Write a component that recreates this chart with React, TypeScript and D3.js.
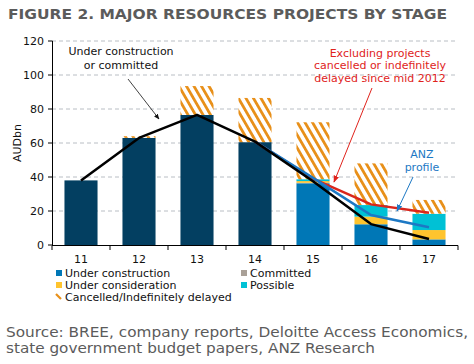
import * as d3 from "d3";

// years on the x axis
const years = ["11", "12", "13", "14", "15", "16", "17"];

// stacked bar series (AUD bn)
const completedBase = [38, 63, 76.5, 60.5, 0, 0, 0];
const underConstruction = [0, 0, 0, 0, 36.3, 12.2, 3.3];
const committed = [0, 0, 0, 0, 0.3, 0, 0];
const underConsideration = [0, 0, 0, 0, 1.0, 4.5, 5.5];
const possible = [0, 0, 0, 0, 1.1, 6.8, 9.6];
const cancelled = [0, 1, 17, 26, 33.5, 24.5, 8.1];

// lines
const ucLine = [38, 63, 76.5, 60.8, 37.5, 12.3, 3.5];
const anzYears = ["14", "15", "16", "17"];
const anzLine = [60.8, 39.5, 17.6, 10.4];
const exclLine = [60.8, 39.0, 23.9, 19.0];

const yTicks = [0, 20, 40, 60, 80, 100, 120];

const W = 474;
const H = 364;
const FONT = "DejaVu Sans, Verdana, sans-serif";

const x = d3.scaleBand<string>().domain(years).range([52, 458]).paddingInner(0.43).paddingOuter(0.215);
const y = d3.scaleLinear().domain([0, 120]).range([245, 41]);
const cx = (d: string) => (x(d) as number) + x.bandwidth() / 2;

const seriesList = [
  { key: "base", vals: completedBase, fill: "#033f61" },
  { key: "uc", vals: underConstruction, fill: "#0077b6" },
  { key: "com", vals: committed, fill: "#a9a097" },
  { key: "cons", vals: underConsideration, fill: "#ffc42e" },
  { key: "pos", vals: possible, fill: "#00c1d5" },
  { key: "can", vals: cancelled, fill: "url(#hatch)" },
];

const legendItems = [
  { label: "Under construction", fill: "#0077b6", lx: 56, ly: 273 },
  { label: "Committed", fill: "#a9a097", lx: 241, ly: 273 },
  { label: "Under consideration", fill: "#ffc42e", lx: 56, ly: 285 },
  { label: "Possible", fill: "#00c1d5", lx: 241, ly: 285 },
  { label: "Cancelled/Indefinitely delayed", fill: "hatch", lx: 56, ly: 297 },
];

export default function App() {
  //stack the bars
  const stackData = years.map((yr, i) => {
    const row: any = { year: yr };
    seriesList.forEach((s) => (row[s.key] = s.vals[i]));
    return row;
  });
  const stacked = d3.stack().keys(seriesList.map((s) => s.key))(stackData);

  const line = d3.line<number>();
  const ucPath = line(ucLine.map((v, i) => [cx(years[i]), y(v)]));
  const anzPath = line(anzLine.map((v, i) => [cx(anzYears[i]), y(v)]));
  const exclPath = line(exclLine.map((v, i) => [cx(anzYears[i]), y(v)]));

  const boundaries = d3.range(years.length + 1).map((i) => 52 + (i * (458 - 52)) / years.length);

  return (
    <svg width={W} height={H} style={{ position: "absolute", left: 0, top: 0, background: "#fff" }} fontFamily={FONT}>
      <defs>
        <pattern id="hatch" width="6.5" height="6.5" patternUnits="userSpaceOnUse" patternTransform="rotate(-30)">
          <rect width="6.5" height="6.5" fill="#fff" />
          <rect width="2.8" height="6.5" fill="#e8901a" />
        </pattern>
        <marker id="arrBlack" viewBox="0 0 10 10" refX="9" refY="5" markerWidth="7" markerHeight="7" orient="auto">
          <path d="M0,1 L10,5 L0,9 z" fill="#111" />
        </marker>
        <marker id="arrRed" viewBox="0 0 10 10" refX="9" refY="5" markerWidth="7" markerHeight="7" orient="auto">
          <path d="M0,1 L10,5 L0,9 z" fill="#e0231c" />
        </marker>
        <marker id="arrBlue" viewBox="0 0 10 10" refX="9" refY="5" markerWidth="7" markerHeight="7" orient="auto">
          <path d="M0,1 L10,5 L0,9 z" fill="#1c78c4" />
        </marker>
      </defs>

      {/* title */}
      <text x={8} y={19} fontSize={14} fontWeight="bold" fill="#5b5b5b" textLength={439} lengthAdjust="spacingAndGlyphs">
        FIGURE 2. MAJOR RESOURCES PROJECTS BY STAGE
      </text>

      {/* gridlines */}
      {yTicks.filter((t) => t > 0).map((t) => (
        <line key={t} x1={52} x2={458} y1={y(t)} y2={y(t)} stroke="#b9bec4" strokeDasharray="4,3" strokeWidth={1} />
      ))}

      {/* bars */}
      {stacked.map((layer, li) => (
        <g key={layer.key} fill={seriesList[li].fill}>
          {layer.map((d, i) =>
            d[1] - d[0] > 0 ? (
              <rect key={i} x={x(years[i])} width={x.bandwidth()} y={y(d[1])} height={y(d[0]) - y(d[1])} />
            ) : null
          )}
        </g>
      ))}

      {/* lines */}
      <path d={exclPath || ""} fill="none" stroke="#d9261c" strokeWidth={2.5} />
      <path d={anzPath || ""} fill="none" stroke="#1c78c4" strokeWidth={2.5} />
      <path d={ucPath || ""} fill="none" stroke="#000" strokeWidth={2.5} strokeLinejoin="round" />

      {/* axes */}
      <line x1={52.5} x2={52.5} y1={41} y2={245} stroke="#000" />
      {yTicks.map((t) => (
        <g key={t}>
          <line x1={48} x2={52.5} y1={y(t)} y2={y(t)} stroke="#000" />
          <text x={44} y={y(t)} dy="0.35em" textAnchor="end" fontSize={11} fill="#111">{t}</text>
        </g>
      ))}
      <line x1={52} x2={458} y1={245.5} y2={245.5} stroke="#000" />
      {boundaries.map((b) => (
        <line key={b} x1={b} x2={b} y1={245.5} y2={250} stroke="#000" />
      ))}
      {years.map((yr) => (
        <text key={yr} x={cx(yr)} y={263} textAnchor="middle" fontSize={11} fill="#111">{yr}</text>
      ))}
      <text transform={`translate(21,${y(60)}) rotate(-90)`} textAnchor="middle" fontSize={11} fill="#111">AUDbn</text>

      {/* annotations */}
      <text x={121} y={55} textAnchor="middle" fontSize={11} fill="#111">Under construction</text>
      <text x={121} y={69} textAnchor="middle" fontSize={11} fill="#111">or committed</text>
      <line x1={128} y1={79} x2={159} y2={119} stroke="#111" strokeWidth={0.8} markerEnd="url(#arrBlack)" />

      <text x={380} y={57} textAnchor="middle" fontSize={11} fill="#e0231c">Excluding projects</text>
      <text x={380} y={69} textAnchor="middle" fontSize={11} fill="#e0231c">cancelled or indefinitely</text>
      <text x={380} y={82} textAnchor="middle" fontSize={11} fill="#e0231c">delayed since mid 2012</text>
      <line x1={372} y1={88} x2={334} y2={182} stroke="#e0231c" strokeWidth={1} markerEnd="url(#arrRed)" />

      <text x={422} y={158} textAnchor="middle" fontSize={11} fill="#1c78c4">ANZ</text>
      <text x={422} y={171} textAnchor="middle" fontSize={11} fill="#1c78c4">profile</text>
      <line x1={413} y1={177} x2={397} y2={211} stroke="#1c78c4" strokeWidth={1} markerEnd="url(#arrBlue)" />

      {/* legend */}
      {legendItems.map((it) => (
        <g key={it.label}>
          {it.fill === "hatch" ? (
            <line x1={it.lx} y1={it.ly - 3} x2={it.lx + 5} y2={it.ly + 2} stroke="#e8901a" strokeWidth={2.2} />
          ) : (
            <rect x={it.lx} y={it.ly - 3} width={6} height={6} fill={it.fill} />
          )}
          <text x={it.lx + 9} y={it.ly} dy="0.35em" fontSize={11} fill="#111">{it.label}</text>
        </g>
      ))}

      {/* source */}
      <text x={6} y={337} fontSize={14} fill="#5b5b5b" textLength={462} lengthAdjust="spacingAndGlyphs">
        Source: BREE, company reports, Deloitte Access Economics,
      </text>
      <text x={6} y={353} fontSize={14} fill="#5b5b5b" textLength={369} lengthAdjust="spacingAndGlyphs">
        state government budget papers, ANZ Research
      </text>
    </svg>
  );
}
